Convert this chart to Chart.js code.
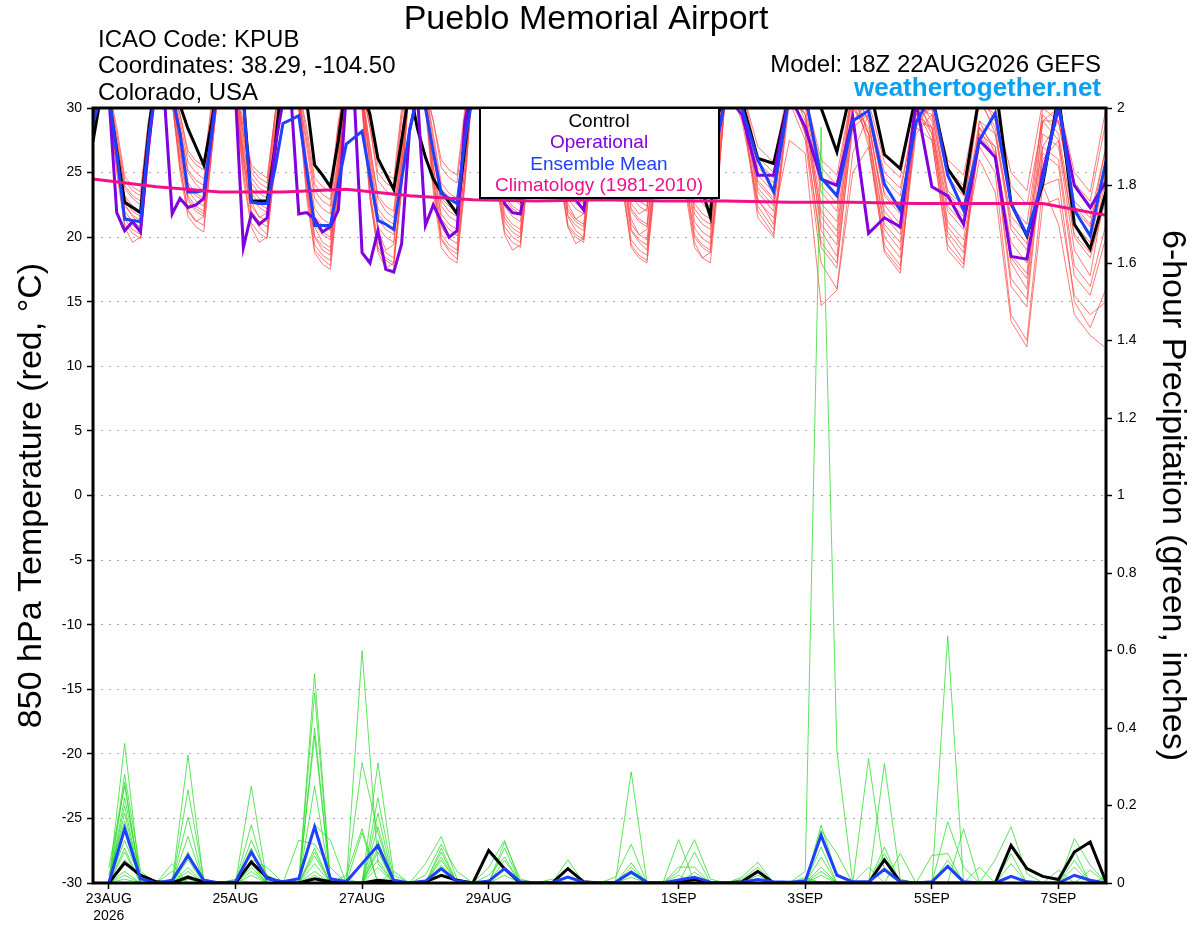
<!DOCTYPE html>
<html>
<head>
<meta charset="utf-8">
<title>Pueblo Memorial Airport - GEFS</title>
<script src="https://cdn.jsdelivr.net/npm/chart.js@4.4.1/dist/chart.umd.min.js"></script>
<style>
  html, body { margin: 0; padding: 0; background: #fff; }
  #wrap { width: 1200px; height: 927px; }
</style>
</head>
<body>
<div id="wrap"><canvas id="gefsChart" width="1200" height="927"></canvas></div>
<script>
// forecast hours from 18Z 22AUG2026 (3-hourly to 240h, then 6-hourly)
var tempHours = [
  0, 3, 6, 9, 12, 15, 18, 21,
  24, 27, 30, 33, 36, 39, 42, 45,
  48, 51, 54, 57, 60, 63, 66, 69,
  72, 75, 78, 81, 84, 87, 90, 93,
  96, 99, 102, 105, 108, 111, 114, 117,
  120, 123, 126, 129, 132, 135, 138, 141,
  144, 147, 150, 153, 156, 159, 162, 165,
  168, 171, 174, 177, 180, 183, 186, 189,
  192, 195, 198, 201, 204, 207, 210, 213,
  216, 219, 222, 225, 228, 231, 234, 237,
  240,
  246, 252, 258, 264,
  270, 276, 282, 288,
  294, 300, 306, 312,
  318, 324, 330, 336,
  342, 348, 354, 360,
  366, 372, 378, 384
];
var precipHours = [
  6, 12, 18, 24, 30, 36, 42, 48,
  54, 60, 66, 72, 78, 84, 90, 96,
  102, 108, 114, 120, 126, 132, 138, 144,
  150, 156, 162, 168, 174, 180, 186, 192,
  198, 204, 210, 216, 222, 228, 234, 240,
  246, 252, 258, 264, 270, 276, 282, 288,
  294, 300, 306, 312, 318, 324, 330, 336,
  342, 348, 354, 360, 366, 372, 378, 384
];
var climHours = [0, 24, 48, 72, 96, 120, 144, 168, 192, 216, 240, 264, 288, 312, 336, 360, 384];

var tickHours = [6, 54, 102, 150, 222, 270, 318, 366];
var tickLabels = [['23AUG', '2026'], '25AUG', '27AUG', '29AUG', '1SEP', '3SEP', '5SEP', '7SEP'];

// 850 hPa temperature (C)
var controlT = [
  27.4, 31.0, 30.8, 26.7, 22.7, 22.3, 21.9, 28.0,
  33.0, 33.0, 33.0, 30.2, 28.4, 27.0, 25.6, 28.9,
  33.0, 33.0, 33.0, 30.8, 22.8, 22.8, 22.8, 26.9,
  33.0, 33.0, 33.0, 30.5, 25.6, 24.8, 23.9, 27.5,
  32.0, 32.0, 31.5, 29.5, 26.1, 24.9, 23.7, 27.5,
  31.5, 28.4, 26.2, 24.5, 23.5, 22.7, 21.8, 27.0,
  32.0, 32.0, 31.0, 28.0, 25.0, 23.2, 22.8, 26.0,
  31.0, 32.0, 31.0, 29.0, 27.0, 25.0, 24.2, 27.0,
  31.0, 32.0, 31.0, 29.0, 27.0, 25.5, 24.5, 27.5,
  31.5, 32.0, 31.0, 29.0, 27.0, 23.5, 21.6, 29.5,
  31.5,
  30.5, 26.1, 25.7, 31.0,
  32.0, 30.0, 26.6, 32.0,
  32.0, 26.4, 25.3, 31.0,
  31.0, 25.3, 23.5, 31.0,
  32.0, 22.6, 20.1, 24.1,
  31.0, 21.0, 19.1, 23.5
];
var operationalT = [
  29.5, 31.0, 31.0, 21.9, 20.5, 21.2, 20.4, 27.0,
  32.0, 31.0, 21.8, 23.0, 22.3, 22.5, 23.0, 28.0,
  33.0, 33.0, 31.0, 19.2, 21.8, 21.0, 21.5, 27.0,
  30.5, 31.0, 21.8, 21.9, 21.4, 20.4, 20.8, 22.1,
  31.0, 31.0, 18.8, 18.0, 20.5, 17.5, 17.3, 19.5,
  28.3, 31.0, 20.9, 22.5, 21.2, 20.0, 20.5, 29.0,
  32.0, 31.5, 30.0, 27.0, 22.6, 21.9, 21.8, 25.0,
  30.5, 31.0, 30.0, 27.0, 24.0, 22.9, 22.1, 26.0,
  30.5, 31.0, 30.0, 28.0, 25.5, 24.0, 23.5, 27.0,
  30.5, 31.0, 30.0, 28.0, 26.0, 24.5, 23.5, 28.0,
  31.0,
  29.5, 24.8, 24.8, 31.0,
  28.5, 24.5, 24.0, 29.3,
  20.3, 21.5, 20.8, 30.5,
  23.9, 23.2, 21.0, 27.5,
  26.2, 18.5, 18.3, 25.0,
  30.0, 24.0, 22.3, 24.3
];
var meanT = [
  28.8, 31.0, 31.0, 26.5, 21.4, 21.3, 21.2, 27.5,
  32.0, 32.0, 31.0, 28.0, 23.5, 23.5, 23.6, 28.0,
  33.0, 32.0, 32.0, 30.5, 22.7, 22.6, 22.6, 25.3,
  28.8, 29.1, 29.4, 25.2, 20.9, 20.9, 20.9, 24.2,
  27.2, 27.7, 28.2, 24.7, 21.3, 21.0, 20.6, 24.5,
  28.2, 31.0, 30.0, 26.6, 23.4, 23.0, 22.6, 27.5,
  31.0, 31.0, 29.5, 27.0, 24.0, 23.4, 23.3, 26.5,
  30.0, 31.0, 30.0, 28.0, 26.0, 24.5, 23.6, 26.5,
  30.0, 31.0, 30.0, 28.0, 26.0, 24.5, 24.0, 27.0,
  30.5, 31.0, 30.0, 28.0, 26.0, 24.5, 23.5, 28.0,
  31.0,
  30.0, 26.0, 23.5, 31.0,
  31.0, 24.6, 23.2, 29.0,
  29.8, 24.1, 22.1, 28.9,
  31.0, 24.8, 22.1, 27.5,
  29.6, 22.6, 20.2, 24.4,
  30.5, 22.1, 20.1, 25.9
];
var climT = [24.5, 23.9, 23.5, 23.5, 23.7, 23.2, 22.9, 22.8, 22.9, 22.8, 22.8, 22.7, 22.7, 22.6, 22.6, 22.6, 21.7];

// ensemble members, 850 hPa temperature
var memberT = [
  [29.0, 32.5, 31.0, 26.5, 22.6, 21.6, 21.0, 27.0,
   32.0, 33.5, 31.5, 28.5, 25.0, 24.1, 23.5, 28.5,
   32.5, 33.0, 30.5, 25.5, 21.8, 20.8, 20.2, 26.0,
   32.0, 33.0, 31.0, 25.0, 20.8, 19.6, 19.2, 25.5,
   32.0, 33.5, 31.5, 27.0, 23.0, 22.0, 21.5, 27.5,
   32.0, 33.0, 30.5, 24.0, 19.8, 18.9, 18.3, 24.5,
   32.5, 33.0, 31.5, 27.5, 24.0, 23.0, 22.5, 28.0,
   32.0, 33.0, 31.0, 25.5, 21.6, 20.5, 20.0, 26.0,
   31.5, 32.5, 30.5, 24.5, 20.5, 19.6, 19.0, 25.0,
   32.0, 33.0, 31.0, 27.0, 23.5, 22.6, 22.0, 28.0,
   32.0,
   30.5, 23.0, 21.0, 31.5,
   29.5, 20.5, 18.5, 30.0,
   28.5, 22.5, 21.0, 31.0,
   28.0, 20.0, 18.2, 29.0,
   26.5, 18.0, 16.0, 28.0,
   27.0, 19.0, 17.0, 24.0],
  [30.0, 32.0, 31.5, 27.5, 23.8, 23.0, 22.5, 28.5,
   32.5, 33.0, 30.5, 25.5, 22.0, 21.2, 21.6, 27.0,
   32.0, 33.5, 31.5, 28.5, 25.0, 24.2, 23.8, 29.5,
   32.5, 33.0, 30.0, 23.5, 19.0, 18.3, 17.8, 24.0,
   32.0, 33.0, 30.5, 24.5, 20.5, 19.0, 19.4, 25.5,
   32.5, 33.5, 31.0, 27.0, 23.0, 22.4, 22.0, 28.0,
   32.0, 33.0, 30.5, 24.5, 20.4, 19.6, 19.2, 25.0,
   32.5, 33.5, 31.5, 28.0, 24.2, 23.6, 23.2, 29.0,
   32.0, 33.0, 31.0, 26.5, 22.6, 21.8, 22.2, 27.5,
   32.0, 32.5, 30.0, 23.5, 19.6, 18.4, 18.8, 24.5,
   31.5,
   31.0, 24.8, 23.5, 32.0,
   30.0, 23.5, 22.0, 31.5,
   27.0, 19.0, 17.5, 29.0,
   30.0, 23.6, 22.4, 30.5,
   28.5, 21.0, 19.5, 30.0,
   29.0, 22.8, 21.5, 27.0],
  [28.5, 32.0, 30.5, 25.0, 20.8, 19.6, 20.0, 26.0,
   32.0, 33.5, 31.5, 29.0, 25.8, 25.0, 24.5, 29.5,
   32.5, 33.0, 31.0, 26.5, 22.8, 21.5, 21.9, 27.5,
   32.0, 33.5, 31.0, 27.0, 23.0, 22.2, 21.8, 28.0,
   32.5, 33.0, 30.0, 23.0, 18.8, 17.6, 18.0, 24.0,
   32.0, 33.0, 30.5, 25.5, 21.4, 20.6, 20.1, 26.5,
   32.5, 33.5, 31.5, 28.5, 24.6, 23.8, 23.4, 29.0,
   32.0, 33.0, 31.0, 26.5, 22.6, 21.4, 21.8, 27.5,
   32.0, 33.0, 30.0, 23.5, 19.4, 18.6, 18.2, 24.5,
   32.5, 33.0, 31.0, 26.0, 21.8, 21.0, 20.6, 27.0,
   32.0,
   30.0, 22.0, 20.2, 30.5,
   27.5, 18.0, 16.0, 26.5,
   29.5, 24.5, 23.2, 30.5,
   28.5, 21.2, 19.8, 27.0,
   25.0, 14.0, 12.0, 24.0,
   24.5, 15.0, 13.0, 16.0],
  [30.5, 33.0, 31.0, 26.0, 22.0, 21.2, 20.8, 27.0,
   32.5, 33.0, 31.0, 27.0, 23.2, 22.4, 22.0, 28.0,
   32.0, 33.5, 31.5, 29.0, 25.6, 25.0, 24.6, 29.5,
   32.5, 33.0, 30.5, 24.0, 20.0, 19.0, 18.6, 25.0,
   32.0, 33.5, 31.5, 28.5, 24.4, 23.6, 23.2, 29.0,
   32.5, 33.0, 30.5, 24.5, 20.2, 19.4, 19.0, 25.5,
   32.0, 33.0, 31.0, 26.0, 21.8, 21.0, 20.6, 26.5,
   32.5, 33.0, 30.5, 25.0, 20.8, 19.5, 19.9, 25.5,
   32.0, 33.5, 31.5, 28.0, 24.2, 23.4, 23.0, 28.5,
   32.0, 33.0, 31.5, 28.5, 24.6, 23.8, 23.4, 29.0,
   32.5,
   31.5, 26.2, 25.0, 32.0,
   29.0, 22.0, 20.5, 30.0,
   28.0, 20.6, 19.0, 29.5,
   30.5, 25.2, 24.0, 31.0,
   29.0, 22.4, 21.0, 29.5,
   28.0, 21.0, 19.6, 25.0],
  [31.0, 32.5, 31.5, 28.0, 24.4, 23.6, 23.2, 29.0,
   32.0, 33.0, 30.5, 25.0, 21.6, 20.8, 20.4, 26.5,
   32.5, 33.5, 31.0, 27.5, 23.4, 22.6, 22.2, 28.0,
   32.0, 33.0, 31.0, 25.5, 21.6, 20.9, 20.5, 26.5,
   32.5, 33.0, 30.5, 23.5, 19.6, 18.8, 18.4, 24.5,
   32.0, 33.5, 31.5, 29.0, 25.4, 24.6, 24.2, 29.5,
   32.5, 33.0, 31.0, 27.0, 23.0, 22.2, 21.8, 27.5,
   32.0, 33.0, 31.5, 27.5, 23.8, 23.0, 22.6, 28.0,
   32.5, 33.0, 30.5, 25.0, 21.4, 20.2, 20.6, 26.0,
   32.0, 33.5, 30.5, 24.0, 20.2, 19.4, 19.0, 25.0,
   31.5,
   30.5, 23.5, 22.0, 32.5,
   31.0, 25.4, 24.0, 31.5,
   29.0, 21.6, 20.2, 28.5,
   27.5, 19.0, 17.6, 28.0,
   27.0, 18.6, 17.2, 29.0,
   30.0, 24.2, 22.8, 29.0],
  [29.5, 32.5, 31.0, 27.0, 22.8, 22.0, 21.6, 27.5,
   32.5, 33.5, 31.5, 29.5, 26.4, 25.6, 25.2, 30.0,
   32.0, 33.0, 30.5, 24.5, 20.8, 19.6, 20.0, 25.5,
   32.5, 33.5, 31.5, 28.5, 24.6, 23.9, 23.5, 29.0,
   32.0, 33.0, 31.0, 26.0, 21.8, 21.0, 20.6, 26.5,
   32.5, 33.0, 30.0, 23.5, 19.2, 18.4, 18.0, 24.0,
   32.0, 33.0, 30.5, 24.0, 20.2, 19.0, 19.4, 25.0,
   32.5, 33.5, 31.0, 26.0, 22.0, 21.2, 20.8, 26.5,
   32.0, 33.0, 31.0, 27.5, 23.6, 22.8, 22.4, 28.0,
   32.5, 33.0, 31.0, 27.0, 22.6, 21.8, 21.4, 27.5,
   32.0,
   31.0, 25.4, 24.2, 31.5,
   28.0, 19.2, 17.6, 29.0,
   30.5, 25.8, 24.6, 31.0,
   29.0, 22.4, 21.0, 28.5,
   26.0, 16.2, 14.6, 26.5,
   25.5, 17.0, 15.5, 20.0],
  [29.0, 32.0, 30.5, 25.5, 21.4, 20.6, 20.2, 26.5,
   32.0, 33.0, 31.0, 27.5, 24.0, 23.2, 22.8, 28.5,
   32.5, 33.0, 31.0, 28.0, 24.2, 23.4, 23.0, 28.5,
   32.0, 33.0, 30.0, 23.0, 18.8, 17.9, 17.5, 23.5,
   32.5, 33.5, 31.5, 29.0, 25.6, 24.9, 24.5, 30.0,
   32.0, 33.0, 31.0, 26.5, 22.4, 21.6, 21.2, 27.0,
   32.5, 33.5, 31.5, 28.5, 25.0, 24.2, 23.8, 29.0,
   32.0, 33.5, 31.5, 29.0, 25.0, 24.2, 23.8, 29.5,
   32.5, 33.0, 30.5, 24.0, 19.8, 19.0, 18.6, 24.5,
   32.0, 33.0, 30.0, 23.0, 19.2, 18.4, 18.0, 24.0,
   32.0,
   30.0, 22.4, 20.6, 31.0,
   29.5, 22.6, 21.2, 30.5,
   27.5, 18.8, 17.2, 29.5,
   30.0, 24.6, 23.2, 30.5,
   29.5, 24.0, 22.5, 29.0,
   27.5, 20.0, 18.4, 23.0],
  [30.0, 32.5, 31.0, 27.0, 23.2, 22.4, 22.0, 28.0,
   32.0, 33.0, 30.5, 26.0, 22.8, 22.0, 21.6, 27.0,
   32.0, 33.5, 31.0, 26.0, 22.0, 21.2, 20.8, 26.5,
   32.5, 33.0, 31.0, 27.5, 23.6, 22.8, 22.4, 28.5,
   32.0, 33.0, 30.0, 23.5, 19.2, 18.4, 18.0, 24.0,
   32.5, 33.5, 31.5, 28.0, 24.2, 23.4, 23.0, 28.5,
   32.0, 33.0, 30.5, 25.0, 21.2, 20.4, 20.0, 26.0,
   32.5, 33.0, 30.5, 25.0, 21.0, 20.2, 19.8, 25.5,
   32.0, 33.5, 31.0, 26.5, 22.2, 21.4, 21.0, 27.0,
   32.5, 33.0, 31.5, 28.0, 24.0, 23.2, 22.8, 28.5,
   32.0,
   30.5, 24.2, 22.8, 31.0,
   28.5, 21.0, 19.4, 29.0,
   29.5, 23.4, 22.0, 30.0,
   28.0, 20.4, 18.8, 27.5,
   26.5, 19.6, 18.0, 24.0,
   21.0, 14.0, 12.4, 11.4],
  [28.5, 32.0, 30.5, 25.5, 21.0, 20.3, 19.9, 26.0,
   32.5, 33.5, 31.5, 28.0, 24.2, 23.4, 23.0, 29.0,
   32.0, 33.0, 31.5, 28.5, 25.4, 24.6, 24.2, 29.5,
   32.5, 33.0, 30.5, 25.0, 21.0, 20.2, 19.8, 25.5,
   32.0, 33.5, 31.0, 27.0, 23.2, 22.4, 22.0, 28.0,
   32.5, 33.0, 30.5, 25.0, 20.8, 19.9, 19.5, 25.5,
   32.0, 33.0, 31.0, 27.0, 23.2, 22.4, 22.0, 27.5,
   32.5, 33.0, 31.0, 26.5, 22.2, 21.4, 21.0, 27.0,
   32.0, 33.5, 31.5, 28.5, 24.8, 24.0, 23.6, 29.0,
   32.5, 33.0, 30.5, 25.5, 21.2, 20.4, 20.0, 26.0,
   32.5,
   31.5, 27.0, 25.8, 32.0,
   30.5, 24.6, 23.2, 31.0,
   28.0, 21.0, 19.6, 29.0,
   28.5, 22.0, 20.6, 28.0,
   26.0, 16.8, 15.2, 27.0,
   29.0, 22.2, 20.8, 27.0],
  [29.5, 32.5, 31.0, 26.5, 22.4, 21.7, 21.3, 27.0,
   32.0, 33.0, 31.0, 28.5, 25.2, 24.4, 24.0, 29.0,
   32.5, 33.0, 30.5, 26.5, 23.0, 22.3, 21.9, 27.5,
   32.0, 33.0, 30.0, 24.0, 19.4, 18.6, 18.2, 24.5,
   32.5, 33.0, 31.0, 25.5, 20.8, 20.0, 19.6, 25.5,
   32.0, 33.5, 31.5, 27.5, 23.8, 23.0, 22.6, 28.5,
   32.5, 33.0, 30.5, 24.5, 20.8, 20.0, 19.6, 25.5,
   32.0, 33.0, 31.0, 27.0, 23.4, 22.6, 22.2, 28.0,
   32.5, 33.0, 30.5, 25.0, 20.6, 19.8, 19.4, 25.0,
   32.0, 33.5, 31.5, 29.0, 25.0, 24.2, 23.8, 29.5,
   32.0,
   29.0, 22.8, 21.5, 27.5,
   26.5, 14.7, 15.9, 25.0,
   27.0, 20.0, 18.4, 28.5,
   30.5, 26.0, 24.8, 31.0,
   28.0, 21.6, 20.2, 27.0,
   26.0, 17.8, 16.2, 21.0],
  [30.5, 33.0, 31.5, 27.5, 24.0, 23.2, 22.8, 28.5,
   32.0, 33.0, 30.5, 25.5, 22.1, 21.3, 20.9, 26.5,
   32.5, 33.5, 31.5, 27.0, 23.8, 23.0, 22.6, 28.0,
   32.0, 33.0, 31.0, 26.0, 22.2, 21.4, 21.0, 27.0,
   32.5, 33.0, 30.0, 23.0, 19.0, 18.2, 17.8, 23.5,
   32.0, 33.0, 31.0, 25.5, 21.8, 21.0, 20.6, 26.5,
   32.5, 33.5, 31.5, 28.0, 24.2, 23.4, 23.0, 28.5,
   32.0, 33.0, 30.0, 24.5, 20.8, 20.0, 19.6, 25.5,
   32.5, 33.0, 31.0, 26.0, 22.0, 21.2, 20.8, 26.5,
   32.0, 33.0, 30.5, 24.0, 20.0, 19.2, 18.8, 24.5,
   31.5,
   30.5, 24.4, 23.0, 31.0,
   29.5, 21.6, 20.0, 30.0,
   30.0, 25.0, 23.8, 29.5,
   28.5, 20.8, 19.2, 26.0,
   23.5, 13.5, 11.5, 22.5,
   23.0, 15.5, 14.0, 15.0],
  [29.0, 32.0, 30.5, 26.0, 21.7, 20.9, 20.5, 26.5,
   32.5, 33.0, 31.0, 27.0, 23.6, 22.8, 22.4, 28.0,
   32.0, 33.5, 30.5, 25.0, 21.1, 20.3, 19.9, 25.5,
   32.5, 33.0, 31.5, 28.0, 24.1, 23.3, 22.9, 28.5,
   32.0, 33.0, 31.0, 26.5, 22.2, 21.4, 21.0, 27.0,
   32.5, 33.5, 30.5, 24.5, 19.9, 19.1, 18.7, 24.5,
   32.0, 33.0, 31.0, 26.5, 22.4, 21.6, 21.2, 27.0,
   32.5, 33.0, 31.5, 28.5, 24.7, 23.9, 23.5, 29.0,
   32.0, 33.0, 30.0, 23.5, 19.2, 18.4, 18.0, 24.0,
   32.5, 33.5, 31.0, 26.5, 22.2, 21.4, 21.0, 27.0,
   32.0,
   30.0, 21.5, 20.0, 31.5,
   30.5, 24.0, 22.6, 31.5,
   29.0, 22.0, 20.6, 30.0,
   29.5, 23.4, 22.0, 30.5,
   30.0, 25.0, 23.6, 30.5,
   30.5, 25.0, 23.5, 30.0],
  [30.0, 32.5, 31.0, 27.0, 23.0, 22.2, 21.8, 28.0,
   32.0, 33.5, 31.5, 29.5, 26.7, 25.9, 25.5, 30.5,
   32.5, 33.0, 30.5, 26.0, 22.4, 21.6, 21.2, 27.0,
   32.0, 33.0, 31.0, 25.5, 21.2, 20.4, 20.0, 26.0,
   32.5, 33.5, 31.5, 28.5, 25.0, 24.2, 23.8, 29.5,
   32.0, 33.0, 31.5, 29.0, 26.0, 25.2, 24.8, 30.0,
   32.5, 33.0, 30.5, 25.0, 21.5, 20.7, 20.3, 26.0,
   32.0, 33.0, 31.0, 25.5, 21.7, 20.9, 20.5, 26.5,
   32.5, 33.5, 31.0, 27.0, 23.2, 22.4, 22.0, 28.0,
   32.0, 33.0, 30.5, 25.0, 20.7, 19.9, 19.5, 25.5,
   32.0,
   31.0, 25.8, 24.6, 31.5,
   28.0, 19.6, 18.0, 28.5,
   29.5, 23.2, 21.8, 30.0,
   27.5, 19.4, 17.9, 28.5,
   27.0, 18.4, 16.8, 26.0,
   27.5, 20.2, 18.8, 24.5],
  [31.0, 33.0, 31.5, 28.5, 24.7, 23.9, 23.5, 29.0,
   32.0, 33.0, 31.0, 26.5, 23.0, 22.2, 21.8, 27.5,
   32.5, 33.5, 31.5, 28.0, 24.6, 23.8, 23.4, 29.0,
   32.0, 33.0, 30.5, 24.5, 20.1, 19.3, 18.9, 25.0,
   32.5, 33.0, 31.0, 25.5, 21.4, 20.6, 20.2, 26.0,
   32.0, 33.5, 31.0, 26.5, 22.8, 22.0, 21.6, 27.5,
   32.5, 33.0, 31.5, 27.5, 24.0, 23.2, 22.8, 28.5,
   32.0, 33.0, 31.0, 27.0, 23.0, 22.2, 21.8, 27.5,
   32.5, 33.0, 30.5, 25.0, 21.0, 20.2, 19.8, 25.5,
   32.0, 33.5, 31.0, 27.5, 23.6, 22.8, 22.4, 28.0,
   31.5,
   30.5, 23.8, 22.4, 31.5,
   31.0, 26.0, 24.8, 31.5,
   28.0, 19.4, 17.8, 28.0,
   29.5, 23.0, 21.6, 29.0,
   28.0, 20.6, 19.0, 29.0,
   29.0, 22.4, 21.0, 26.0]
];

// 6-hour precipitation (inches)
var controlP = [
  0, 0.052, 0.020, 0.003, 0, 0.015, 0.003, 0,
  0, 0.054, 0.014, 0, 0, 0.011, 0.003, 0,
  0, 0.007, 0.003, 0, 0.003, 0.020, 0.007, 0,
  0.084, 0.037, 0, 0, 0, 0.037, 0.003, 0,
  0, 0, 0, 0, 0.003, 0.009, 0, 0,
  0.003, 0.030, 0, 0, 0, 0, 0, 0,
  0, 0.060, 0.003, 0, 0, 0, 0, 0,
  0, 0.097, 0.037, 0.017, 0.009, 0.080, 0.106, 0.003
];
var meanP = [
  0, 0.140, 0.011, 0, 0.007, 0.071, 0.007, 0,
  0.003, 0.080, 0.011, 0.003, 0.011, 0.145, 0.011, 0.003,
  0.050, 0.097, 0.007, 0, 0.005, 0.037, 0.005, 0,
  0.005, 0.037, 0.003, 0, 0.001, 0.015, 0.002, 0,
  0.002, 0.028, 0.002, 0, 0.008, 0.015, 0.002, 0,
  0.002, 0.009, 0.003, 0.002, 0.005, 0.123, 0.020, 0.003,
  0.003, 0.035, 0.003, 0, 0.003, 0.043, 0.003, 0,
  0, 0.017, 0.003, 0, 0, 0.020, 0.007, 0
];
var memberP = [
  [0, 0.36, 0, 0, 0, 0.17, 0, 0,
   0, 0.05, 0, 0, 0, 0.49, 0, 0,
   0, 0.09, 0, 0, 0, 0.067, 0, 0,
   0, 0, 0, 0, 0.01, 0, 0, 0,
   0, 0, 0, 0, 0.112, 0, 0, 0,
   0, 0, 0, 0, 0, 0.041, 0, 0,
   0, 0.093, 0, 0, 0, 0, 0, 0,
   0, 0, 0, 0, 0, 0, 0, 0],
  [0, 0.28, 0.03, 0, 0, 0, 0, 0,
   0, 0.15, 0, 0, 0, 0.08, 0, 0,
   0, 0.18, 0, 0, 0, 0, 0, 0,
   0, 0.059, 0, 0, 0, 0, 0, 0,
   0, 0.287, 0, 0, 0, 0, 0, 0,
   0, 0, 0, 0, 0.015, 0, 0, 0,
   0, 0, 0, 0, 0, 0, 0, 0.041,
   0, 0, 0, 0, 0, 0.059, 0, 0],
  [0, 0.26, 0, 0, 0, 0.33, 0, 0,
   0, 0, 0, 0, 0, 0.25, 0, 0,
   0, 0.04, 0, 0, 0, 0.046, 0, 0,
   0, 0, 0, 0, 0, 0.015, 0, 0,
   0, 0, 0, 0, 0, 0.08, 0, 0,
   0, 0, 0, 0, 0, 0.149, 0.02, 0,
   0, 0, 0, 0, 0, 0, 0, 0,
   0, 0.05, 0, 0, 0, 0, 0, 0],
  [0.04, 0.25, 0, 0, 0, 0, 0, 0,
   0, 0.06, 0.04, 0, 0, 0, 0, 0,
   0.31, 0.13, 0, 0, 0, 0, 0, 0,
   0.04, 0.11, 0, 0, 0, 0, 0, 0,
   0, 0.024, 0, 0, 0, 0, 0, 0,
   0, 0, 0, 0, 0, 0.02, 0, 0,
   0, 0, 0, 0, 0.071, 0.076, 0, 0,
   0, 0, 0, 0, 0, 0, 0, 0],
  [0, 0.22, 0.02, 0, 0, 0.04, 0, 0,
   0, 0.25, 0, 0, 0, 0.07, 0, 0,
   0, 0, 0, 0, 0.02, 0.10, 0.03, 0,
   0, 0, 0, 0, 0, 0, 0, 0,
   0, 0, 0, 0, 0, 0, 0, 0,
   0, 0, 0, 0, 0, 0.136, 0.076, 0,
   0, 0, 0, 0, 0, 0, 0, 0,
   0, 0, 0, 0, 0.033, 0, 0, 0],
  [0, 0.20, 0, 0, 0.05, 0, 0, 0,
   0, 0.03, 0, 0, 0, 0.54, 0, 0,
   0, 0.145, 0, 0, 0, 0, 0, 0,
   0, 0, 0, 0, 0, 0.041, 0, 0,
   0, 0.015, 0, 0, 0, 0.015, 0, 0,
   0, 0, 0, 0, 0, 0, 0, 0,
   0.321, 0.03, 0, 0, 0, 0, 0, 0,
   0, 0, 0, 0, 0, 0, 0, 0],
  [0, 0.18, 0, 0, 0, 0.24, 0.01, 0,
   0, 0, 0, 0, 0, 0, 0, 0.02,
   0.14, 0, 0.03, 0, 0, 0, 0, 0,
   0, 0.105, 0.01, 0, 0, 0, 0, 0,
   0, 0, 0, 0, 0, 0, 0, 0,
   0.01, 0.041, 0, 0, 0, 0, 0, 0,
   0, 0.076, 0, 0, 0, 0, 0, 0,
   0, 0, 0, 0, 0, 0.115, 0.046, 0],
  [0.02, 0.16, 0, 0, 0, 0, 0, 0,
   0, 0.11, 0.02, 0, 0, 0.15, 0.11, 0,
   0, 0, 0, 0, 0, 0.09, 0, 0,
   0, 0, 0, 0, 0, 0, 0, 0,
   0, 0.052, 0, 0, 0, 0, 0, 0,
   0, 0, 0, 0, 0, 0.093, 0, 0,
   0, 0, 0, 0, 0, 0.637, 0, 0,
   0, 0, 0, 0, 0, 0, 0, 0],
  [0, 0.14, 0, 0, 0, 0.12, 0, 0,
   0, 0, 0, 0, 0, 0.05, 0, 0,
   0.60, 0.05, 0, 0, 0, 0, 0, 0,
   0, 0.02, 0, 0, 0, 0, 0, 0,
   0, 0, 0, 0, 0.041, 0.041, 0, 0,
   0, 0, 0, 0, 0, 0, 0, 0,
   0, 0, 0, 0, 0, 0, 0, 0,
   0.06, 0.145, 0.024, 0, 0, 0, 0, 0],
  [0, 0.11, 0.01, 0, 0, 0.02, 0, 0,
   0.01, 0, 0, 0, 0, 0.40, 0, 0,
   0, 0.08, 0, 0, 0, 0.033, 0, 0,
   0, 0, 0, 0, 0, 0.06, 0, 0,
   0, 0, 0, 0, 0, 0.028, 0, 0,
   0, 0, 0, 0, 0.01, 0, 0, 0,
   0, 0, 0.076, 0, 0, 0, 0, 0,
   0, 0, 0, 0, 0, 0.084, 0, 0.015],
  [0, 0.09, 0, 0, 0.03, 0, 0, 0,
   0, 0.09, 0, 0, 0, 0, 0.01, 0,
   0, 0.31, 0.02, 0, 0, 0, 0, 0,
   0, 0.09, 0, 0, 0, 0, 0, 0,
   0, 0.041, 0, 0, 0, 0, 0, 0,
   0, 0, 0, 0, 0, 0, 0, 0,
   0.041, 0, 0, 0, 0, 0, 0, 0,
   0, 0.076, 0, 0, 0, 0, 0, 0],
  [0, 0.08, 0, 0, 0, 0.08, 0, 0,
   0, 0, 0, 0, 0.11, 0.10, 0.04, 0,
   0, 0, 0, 0, 0.05, 0.12, 0.01, 0,
   0, 0, 0, 0, 0, 0, 0, 0,
   0, 0, 0, 0, 0, 0, 0, 0,
   0, 0.02, 0, 0, 0, 0.067, 0, 0,
   0, 0, 0, 0, 0, 0.158, 0.041, 0,
   0, 0, 0, 0, 0, 0, 0, 0],
  [0, 0.06, 0.02, 0, 0, 0, 0, 0,
   0, 0.08, 0, 0, 0, 0.02, 0, 0,
   0, 0.22, 0.01, 0, 0, 0, 0, 0,
   0, 0.041, 0, 0, 0, 0, 0, 0,
   0, 0, 0, 0, 0.03, 0.112, 0.01, 0,
   0, 0, 0, 0, 0, 0, 0, 0,
   0, 0.308, 0.01, 0, 0, 0, 0, 0,
   0, 0, 0, 0, 0, 0, 0, 0],
  [0, 0.03, 0, 0, 0, 0.06, 0, 0,
   0, 0, 0, 0, 0, 0.38, 0, 0,
   0, 0.11, 0, 0, 0, 0.08, 0, 0,
   0, 0, 0, 0, 0, 0, 0, 0,
   0.015, 0.10, 0, 0, 0, 0, 0, 0,
   0, 0, 0, 0, 0, 0.03, 0, 0,
   0, 0, 0, 0, 0, 0, 0.14, 0,
   0, 0, 0, 0, 0, 0, 0, 0],
  [0, 0.02, 0, 0, 0, 0.03, 0, 0,
   0, 0.04, 0, 0, 0, 0.09, 0, 0.01,
   0, 0.06, 0, 0, 0, 0, 0, 0,
   0.02, 0.067, 0, 0, 0, 0, 0, 0,
   0, 0, 0, 0, 0, 0, 0, 0,
   0.015, 0.054, 0, 0, 0, 0, 0, 0,
   0, 0, 0, 0, 0, 0.059, 0, 0,
   0, 0, 0, 0, 0, 0, 0.033, 0],
  [0, 0.01, 0, 0, 0, 0.01, 0, 0,
   0, 0.02, 0, 0, 0, 0.03, 0, 0,
   0.13, 0, 0, 0, 0, 0.059, 0, 0,
   0, 0, 0, 0, 0, 0, 0, 0,
   0, 0, 0, 0, 0.02, 0, 0, 0,
   0, 0, 0, 0, 0.03, 1.95, 0.34, 0,
   0, 0, 0, 0, 0, 0, 0, 0,
   0, 0, 0, 0, 0, 0.041, 0, 0]
];

var FONT = "'Liberation Sans', Arial, Helvetica, sans-serif";

function series(hours, vals, color, width, axis, order) {
  return {
    data: hours.map(function (h, i) { return { x: h, y: vals[i] }; }),
    borderColor: color,
    borderWidth: width,
    yAxisID: axis,
    order: order,
    pointRadius: 0,
    tension: 0,
    fill: false
  };
}

var datasets = [];
memberT.forEach(function (m) {
  datasets.push(series(tempHours, m, 'rgba(255,70,70,0.9)', 0.8, 'y', 6));
});
memberP.forEach(function (m) {
  datasets.push(series(precipHours, m, 'rgba(40,220,40,0.95)', 0.8, 'y2', 5));
});
datasets.push(series(precipHours, controlP, '#000000', 3, 'y2', 4));
datasets.push(series(precipHours, meanP, '#2040ff', 3, 'y2', 3));
datasets.push(series(tempHours, controlT, '#000000', 3, 'y', 4));
datasets.push(series(tempHours, operationalT, '#8000e0', 3, 'y', 3));
datasets.push(series(tempHours, meanT, '#2040ff', 3, 'y', 2));
datasets.push(series(climHours, climT, '#f0108c', 3, 'y', 1));

// frame, legend box and header texts
var decor = {
  id: 'decor',
  afterDatasetsDraw: function (chart) {
    var c = chart.ctx, a = chart.chartArea;
    c.save();
    c.strokeStyle = '#000';
    c.lineWidth = 3;
    c.strokeRect(a.left, a.top, a.right - a.left, a.bottom - a.top);

    c.fillStyle = '#fff';
    c.fillRect(480, 108, 239, 90);
    c.lineWidth = 2;
    c.strokeRect(480, 108, 239, 90);
    c.font = '19px ' + FONT;
    c.textAlign = 'center';
    c.textBaseline = 'alphabetic';
    c.fillStyle = '#000';
    c.fillText('Control', 599, 127);
    c.fillStyle = '#8000e0';
    c.fillText('Operational', 599, 148);
    c.fillStyle = '#2040ff';
    c.fillText('Ensemble Mean', 599, 170);
    c.fillStyle = '#f0108c';
    c.fillText('Climatology (1981-2010)', 599, 191);
    c.restore();
  },
  afterDraw: function (chart) {
    var c = chart.ctx;
    c.save();
    c.textBaseline = 'alphabetic';
    c.fillStyle = '#000';
    c.font = '34px ' + FONT;
    c.textAlign = 'center';
    c.fillText('Pueblo Memorial Airport', 586, 29);
    c.font = '24px ' + FONT;
    c.textAlign = 'left';
    c.fillText('ICAO Code: KPUB', 98, 47);
    c.fillText('Coordinates: 38.29, -104.50', 98, 73);
    c.fillText('Colorado, USA', 98, 100);
    c.textAlign = 'right';
    c.fillText('Model: 18Z 22AUG2026 GEFS', 1101, 72);
    c.font = 'bold 26px ' + FONT;
    c.fillStyle = '#0aa0f2';
    c.fillText('weathertogether.net', 1101, 96);
    c.restore();
  }
};

new Chart(document.getElementById('gefsChart').getContext('2d'), {
  type: 'line',
  data: { datasets: datasets },
  options: {
    responsive: false,
    animation: false,
    events: [],
    layout: { padding: { top: 108, left: 0, right: 0, bottom: 0 } },
    plugins: { legend: { display: false }, tooltip: { enabled: false } },
    scales: {
      x: {
        type: 'linear',
        min: 0,
        max: 384,
        afterBuildTicks: function (s) { s.ticks = tickHours.map(function (v) { return { value: v }; }); },
        afterFit: function (s) { s.height = 44; },
        ticks: {
          autoSkip: false,
          maxRotation: 0,
          padding: 2,
          color: '#000',
          font: { family: FONT, size: 14 },
          callback: function (v, i) { return tickLabels[i]; }
        },
        grid: { drawOnChartArea: false, tickLength: 6, tickColor: '#000', tickWidth: 1.5 },
        border: { display: false }
      },
      y: {
        position: 'left',
        min: -30,
        max: 30,
        afterFit: function (s) { s.width = 93; },
        ticks: { stepSize: 5, padding: 5, color: '#000', font: { family: FONT, size: 14 } },
        grid: {
          color: function (ctx) { return Math.abs(ctx.tick.value) === 30 ? 'rgba(0,0,0,0)' : '#a8a8a8'; },
          lineWidth: 1,
          tickLength: 6,
          tickColor: '#000',
          tickWidth: 1.5,
          tickBorderDash: []
        },
        border: { display: false, dash: [2, 6] },
        title: {
          display: true,
          text: '850 hPa Temperature (red, \u00B0C)',
          color: '#000',
          font: { family: FONT, size: 34 },
          padding: { top: 11, bottom: 0 }
        }
      },
      y2: {
        position: 'right',
        min: 0,
        max: 2,
        afterFit: function (s) { s.width = 94; },
        ticks: {
          stepSize: 0.2,
          padding: 5,
          color: '#000',
          font: { family: FONT, size: 14 },
          callback: function (v) { return String(Math.round(v * 10) / 10); }
        },
        grid: { drawOnChartArea: false, tickLength: 6, tickColor: '#000', tickWidth: 1.5 },
        border: { display: false },
        title: {
          display: true,
          text: '6-hour Precipitation (green, inches)',
          color: '#000',
          font: { family: FONT, size: 34 },
          padding: { top: 7, bottom: 0 }
        }
      }
    }
  },
  plugins: [decor]
});
</script>
</body>
</html>
